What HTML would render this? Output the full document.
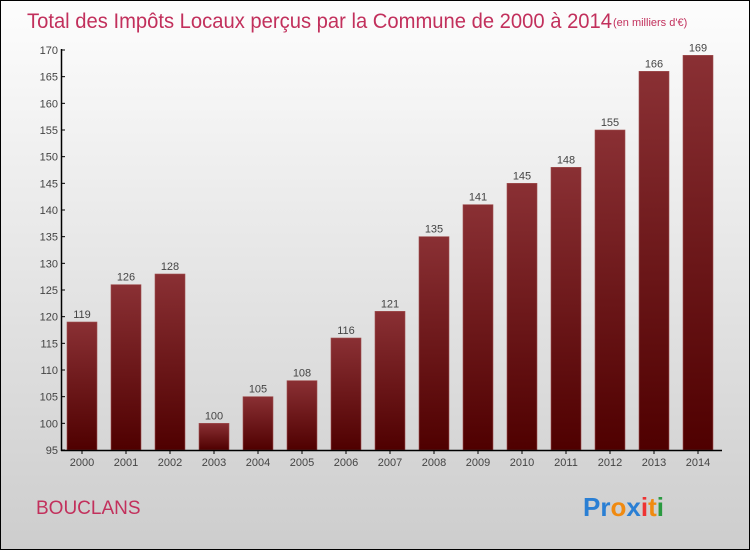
<!DOCTYPE html>
<html><head><meta charset="utf-8"><style>
body{margin:0;}
#c{position:relative;width:748px;height:548px;border:1px solid #000;background:linear-gradient(#fdfdfd,#cdcdcd);overflow:hidden;font-family:"Liberation Sans",sans-serif;}
</style></head><body>
<div id="c">
<svg id="s" width="748" height="548">
<defs><linearGradient id="g" x1="0" y1="0" x2="0" y2="1"><stop offset="0" stop-color="#8a3034"/><stop offset="1" stop-color="#4f0000"/></linearGradient></defs>
<text x="26" y="27" font-size="21" fill="#c2305c" textLength="585" lengthAdjust="spacingAndGlyphs">Total des Impôts Locaux perçus par la Commune de 2000 à 2014</text>
<text x="612" y="25" font-size="11" fill="#c2305c">(en milliers d'€)</text>
<text x="35" y="513" font-size="19" fill="#c2305c">BOUCLANS</text>
<text x="582" y="515" font-size="26" font-weight="bold"><tspan fill="#2a7fd4">Pr</tspan><tspan fill="#f08a10">o</tspan><tspan fill="#2a7fd4">x</tspan><tspan fill="#e33">i</tspan><tspan fill="#f08a10">t</tspan><tspan fill="#2a9a40">i</tspan></text>
</svg>
</div>
<script>
const years=["2000","2001","2002","2003","2004","2005","2006","2007","2008","2009","2010","2011","2012","2013","2014"];
const values=[119,126,128,100,105,108,116,121,135,141,145,148,155,166,169];
const yTicks=[95,100,105,110,115,120,125,130,135,140,145,150,155,160,165,170];
const NS="http://www.w3.org/2000/svg",s=document.getElementById('s');
const y=v=>449-(v-95)*400/75, x=i=>81+i*44;
function mk(t,a,txt){const e=document.createElementNS(NS,t);for(const k in a)e.setAttribute(k,a[k]);if(txt!=null)e.textContent=txt;s.appendChild(e);return e;}
yTicks.forEach(t=>{
 const l=mk('line',{x1:60,x2:64,y1:y(t),y2:y(t),stroke:'#000'});
 
 
 const tx=mk('text',{x:57,y:y(t)+4,'font-size':11,'text-anchor':'end',fill:'#444'},t);
 
 
});
values.forEach((v,i)=>{
 const r=mk('rect',{x:x(i)-15,y:y(v),width:30,height:y(95)-y(v),fill:'url(#g)',stroke:'#a05050','stroke-width':0.6});
 
 
 const t=mk('text',{x:x(i),y:y(v)-4,'font-size':11,'text-anchor':'middle',fill:'#444'},v);
 
 
 const tk=mk('line',{x1:x(i),x2:x(i),y1:449,y2:453,stroke:'#000'});
 
 
 const xl=mk('text',{x:x(i),y:465,'font-size':11,'text-anchor':'middle',fill:'#444'},years[i]);
 
 
});
const ya=mk('line',{x1:60.5,x2:60.5,y1:48,y2:450,stroke:'#000','stroke-width':1.5});


const xa=mk('line',{x1:60,x2:721,y1:449.5,y2:449.5,stroke:'#000','stroke-width':1.5});


</script>
</body></html>
